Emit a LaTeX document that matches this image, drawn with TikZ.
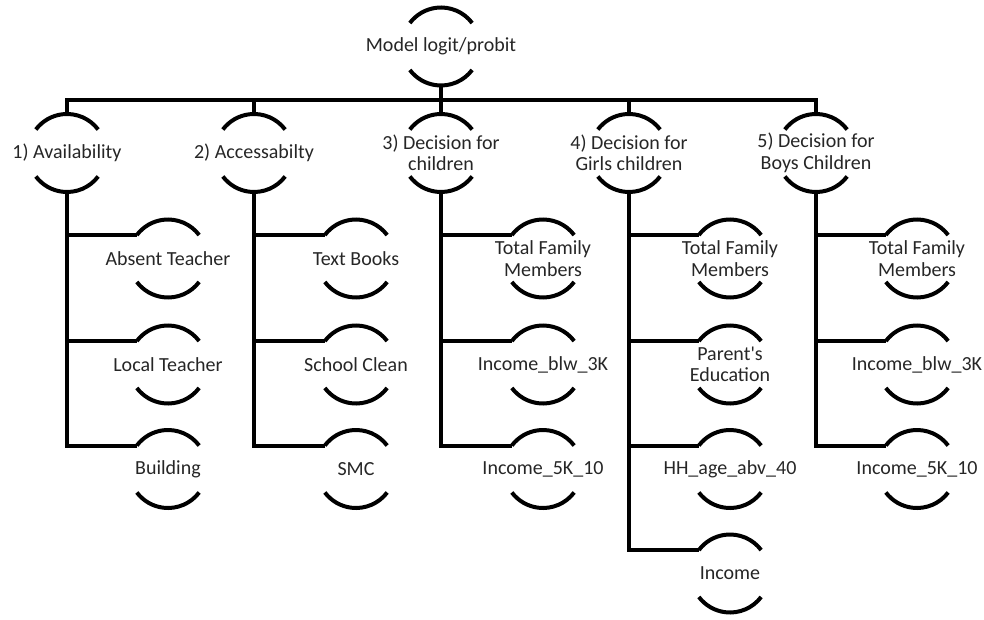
\documentclass[tikz,border=0pt]{standalone}
\usepackage{fontspec}
\setmainfont{Carlito}
\usetikzlibrary{positioning,calc}

\begin{document}
\begin{tikzpicture}[x=1pt, y=1pt,
        topic/.style={align=center, inner sep=0pt, text=black!85,
                      font=\fontsize{20}{21.5}\selectfont},
        rim/.style={line width=4pt, black},
        link/.style={line width=4pt, black}
      ]
        \useasboundingbox (0,0) rectangle (984,-620);
        % root and first level
        \node[topic] (model)  at (441,-46.5) {Model logit/probit};
        \node[topic] (avail)  at (67,-153)  {1) Availability};
        \node[topic] (access) at (254,-153) {2) Accessabilty};
        \node[topic] (dchild) at (441,-153) {3) Decision for\\children};
        \node[topic] (dgirls) at (629,-153) {4) Decision for\\Girls children};
        \node[topic] (dboys)  at (816,-153) {5) Decision for\\Boys Children};
        % second level
        \node[topic] (absent)   at (168,-258.5) {Absent Teacher};
        \node[topic] (local)    at (168,-364.5) {Local Teacher};
        \node[topic] (building) at (168,-469)   {Building};
        \node[topic] (books)    at (356,-258.5) {Text Books};
        \node[topic] (clean)    at (356,-364.5) {School Clean};
        \node[topic] (smc)      at (356,-469)   {SMC};
        \node[topic] (fam3)     at (543,-258.5) {Total Family\\Members};
        \node[topic] (blw3)     at (543,-364.5) {Income\_blw\_3K};
        \node[topic] (inc3)     at (543,-469)   {Income\_5K\_10};
        \node[topic] (fam4)     at (730,-258.5) {Total Family\\Members};
        \node[topic] (edu4)     at (730,-364.5) {Parent\textquotesingle s\\Education};
        \node[topic] (age4)     at (730,-469)   {HH\_age\_abv\_40};
        \node[topic] (inc4)     at (730,-573.5) {Income};
        \node[topic] (fam5)     at (917,-258.5) {Total Family\\Members};
        \node[topic] (blw5)     at (917,-364.5) {Income\_blw\_3K};
        \node[topic] (inc5)     at (917,-469)   {Income\_5K\_10};
        % arcs above and below every label
        \foreach \n in {model,avail,access,dchild,dgirls,dboys,absent,local,building,
                        books,clean,smc,fam3,blw3,inc3,fam4,edu4,age4,inc4,fam5,blw5,inc5}{
          \draw[rim] ([shift={(37:39pt)}]\n.center) arc[start angle=37, end angle=143, radius=39pt];
          \draw[rim] ([shift={(-37:39pt)}]\n.center) arc[start angle=-37, end angle=-143, radius=39pt];
        }
        % connectors
        \coordinate (bus) at (441,-100);
        \foreach \t in {avail,access,dchild,dgirls,dboys}
          \draw[link] ([yshift=-39pt]model.center) -- (bus) -| ([yshift=39pt]\t.center);
        \foreach \p/\c in {avail/absent,avail/local,avail/building,
                           access/books,access/clean,access/smc,
                           dchild/fam3,dchild/blw3,dchild/inc3,
                           dgirls/fam4,dgirls/edu4,dgirls/age4,dgirls/inc4,
                           dboys/fam5,dboys/blw5,dboys/inc5}
          \draw[link] ([yshift=-39pt]\p.center) |- ([shift={(143:39pt)}]\c.center);
      \end{tikzpicture}
\end{document}
